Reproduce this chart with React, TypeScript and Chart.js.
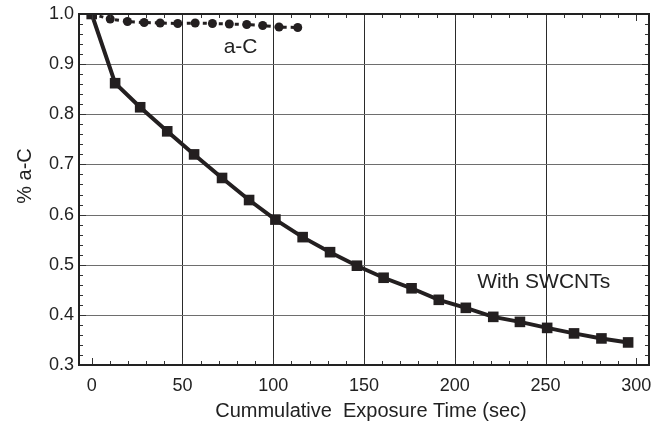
import React, { useEffect, useRef } from "react";
import { Chart, registerables } from "chart.js";

Chart.register(...registerables);

// ---- data ----
const swcntX = [0, 12.9, 26.7, 41.6, 56.4, 71.8, 86.7, 101.2, 116.2, 131.3, 146.1, 160.8, 176.2, 191.2, 206.1, 221.2, 235.9, 250.9, 265.7, 280.8, 295.5];
const swcntY = [1.0, 0.862, 0.814, 0.766, 0.72, 0.673, 0.629, 0.59, 0.555, 0.525, 0.498, 0.474, 0.453, 0.43, 0.414, 0.396, 0.386, 0.374, 0.363, 0.353, 0.345];

const acX = [0, 10.2, 19.7, 28.9, 37.7, 47.4, 57.0, 66.5, 75.8, 85.4, 94.2, 103.2, 113.5];
const acY = [1.0, 0.99, 0.985, 0.983, 0.982, 0.981, 0.982, 0.981, 0.98, 0.979, 0.977, 0.974, 0.973];

const xTicks = [0, 50, 100, 150, 200, 250, 300];
const yTicks = [0.3, 0.4, 0.5, 0.6, 0.7, 0.8, 0.9, 1.0];

const xTitle = "Cummulative  Exposure Time (sec)";
const yTitle = "% a-C";
const labelAC = "a-C";
const labelSW = "With SWCNTs";

const FONT = "'Liberation Sans', Arial, Helvetica, sans-serif";
const INK = "#231f20";

const decor = {
  id: "decor",
  beforeDatasetsDraw(chart: any) {
    const { ctx, chartArea: a, scales } = chart;
    const x = scales.x, y = scales.y;
    ctx.save();
    ctx.lineWidth = 1;
    ctx.strokeStyle = "#2a2a2a";
    for (const v of xTicks.slice(1, -1)) {
      const px = Math.round(x.getPixelForValue(v)) + 0.5;
      ctx.beginPath(); ctx.moveTo(px, a.top); ctx.lineTo(px, a.bottom); ctx.stroke();
    }
    ctx.strokeStyle = "#6e6e6e";
    for (const v of yTicks.slice(1, -1)) {
      const py = Math.round(y.getPixelForValue(v)) + 0.5;
      ctx.beginPath(); ctx.moveTo(a.left, py); ctx.lineTo(a.right, py); ctx.stroke();
    }
    ctx.restore();
  },
  afterDatasetsDraw(chart: any) {
    const { ctx, chartArea: a, scales } = chart;
    const x = scales.x, y = scales.y;
    ctx.save();
    // ticks (inward, all four sides)
    ctx.strokeStyle = "#333";
    ctx.lineWidth = 1;
    for (let v = 0; v <= 300; v += 10) {
      const major = v % 50 === 0;
      const len = major ? 7 : 4;
      const px = Math.round(x.getPixelForValue(v)) + 0.5;
      ctx.beginPath();
      ctx.moveTo(px, a.bottom); ctx.lineTo(px, a.bottom - len);
      ctx.moveTo(px, a.top); ctx.lineTo(px, a.top + len);
      ctx.stroke();
    }
    for (let i = 0; i <= 35; i++) {
      const v = 0.3 + i * 0.02;
      const major = i % 5 === 0;
      const len = major ? 7 : 4;
      const py = Math.round(y.getPixelForValue(v)) + 0.5;
      ctx.beginPath();
      ctx.moveTo(a.left, py); ctx.lineTo(a.left + len, py);
      ctx.moveTo(a.right, py); ctx.lineTo(a.right - len, py);
      ctx.stroke();
    }
    // frame
    ctx.strokeStyle = "#222";
    ctx.lineWidth = 2;
    ctx.strokeRect(a.left, a.top, a.right - a.left, a.bottom - a.top);

    // annotations
    ctx.fillStyle = "#222";
    ctx.font = `21px ${FONT}`;
    ctx.textAlign = "center";
    ctx.textBaseline = "middle";
    ctx.fillText(labelAC, x.getPixelForValue(82), y.getPixelForValue(0.933));
    ctx.fillText(labelSW, x.getPixelForValue(249), y.getPixelForValue(0.465));

    // axis titles
    ctx.font = `20px ${FONT}`;
    ctx.fillText(xTitle, (a.left + a.right) / 2 + 7, 411);
    ctx.translate(25, 176);
    ctx.rotate(-Math.PI / 2);
    ctx.fillText(yTitle, 0, 0);
    ctx.restore();
  },
};

export default function App() {
  const ref = useRef<HTMLCanvasElement>(null);
  useEffect(() => {
    document.body.style.margin = "0";
    const chart = new Chart(ref.current as HTMLCanvasElement, {
      type: "line",
      data: {
        datasets: [
          {
            label: "With SWCNTs",
            data: swcntX.map((v, i) => ({ x: v, y: swcntY[i] })),
            borderColor: INK,
            backgroundColor: INK,
            borderWidth: 4,
            pointStyle: "rect",
            pointRadius: 7.5,
            pointBorderWidth: 0,
            pointBackgroundColor: INK,
            tension: 0,
          },
          {
            label: "a-C",
            data: acX.map((v, i) => ({ x: v, y: acY[i] })),
            borderColor: INK,
            backgroundColor: INK,
            borderWidth: 3,
            borderDash: [4, 4],
            pointStyle: "circle",
            pointRadius: 4.5,
            pointBorderWidth: 0,
            pointBackgroundColor: INK,
            tension: 0,
          },
        ],
      },
      options: {
        animation: false,
        responsive: false,
        maintainAspectRatio: false,
        layout: { padding: { left: 0, top: 12, right: 19, bottom: 0 } },
        plugins: { legend: { display: false }, tooltip: { enabled: false } },
        scales: {
          x: {
            type: "linear",
            min: -7,
            max: 307,
            afterBuildTicks: (s: any) => { s.ticks = xTicks.map((v) => ({ value: v })); },
            afterFit: (s: any) => { s.height = 64; },
            grid: { display: false, drawTicks: false },
            border: { display: false },
            ticks: { color: "#222", font: { family: FONT, size: 18, lineHeight: 1 }, padding: 12, maxRotation: 0 },
          },
          y: {
            type: "linear",
            min: 0.3,
            max: 1.0,
            afterBuildTicks: (s: any) => { s.ticks = yTicks.map((v) => ({ value: v })); },
            afterFit: (s: any) => { s.width = 79; },
            grid: { display: false, drawTicks: false },
            border: { display: false },
            ticks: {
              color: "#222",
              font: { family: FONT, size: 18, lineHeight: 1 },
              padding: 5,
              callback: (v: any) => Number(v).toFixed(1),
            },
          },
        },
      },
      plugins: [decor],
    });
    return () => chart.destroy();
  }, []);
  return (
    <div style={{ width: 668, height: 429 }}>
      <canvas ref={ref} width={668} height={429} style={{ display: "block" }} />
    </div>
  );
}
